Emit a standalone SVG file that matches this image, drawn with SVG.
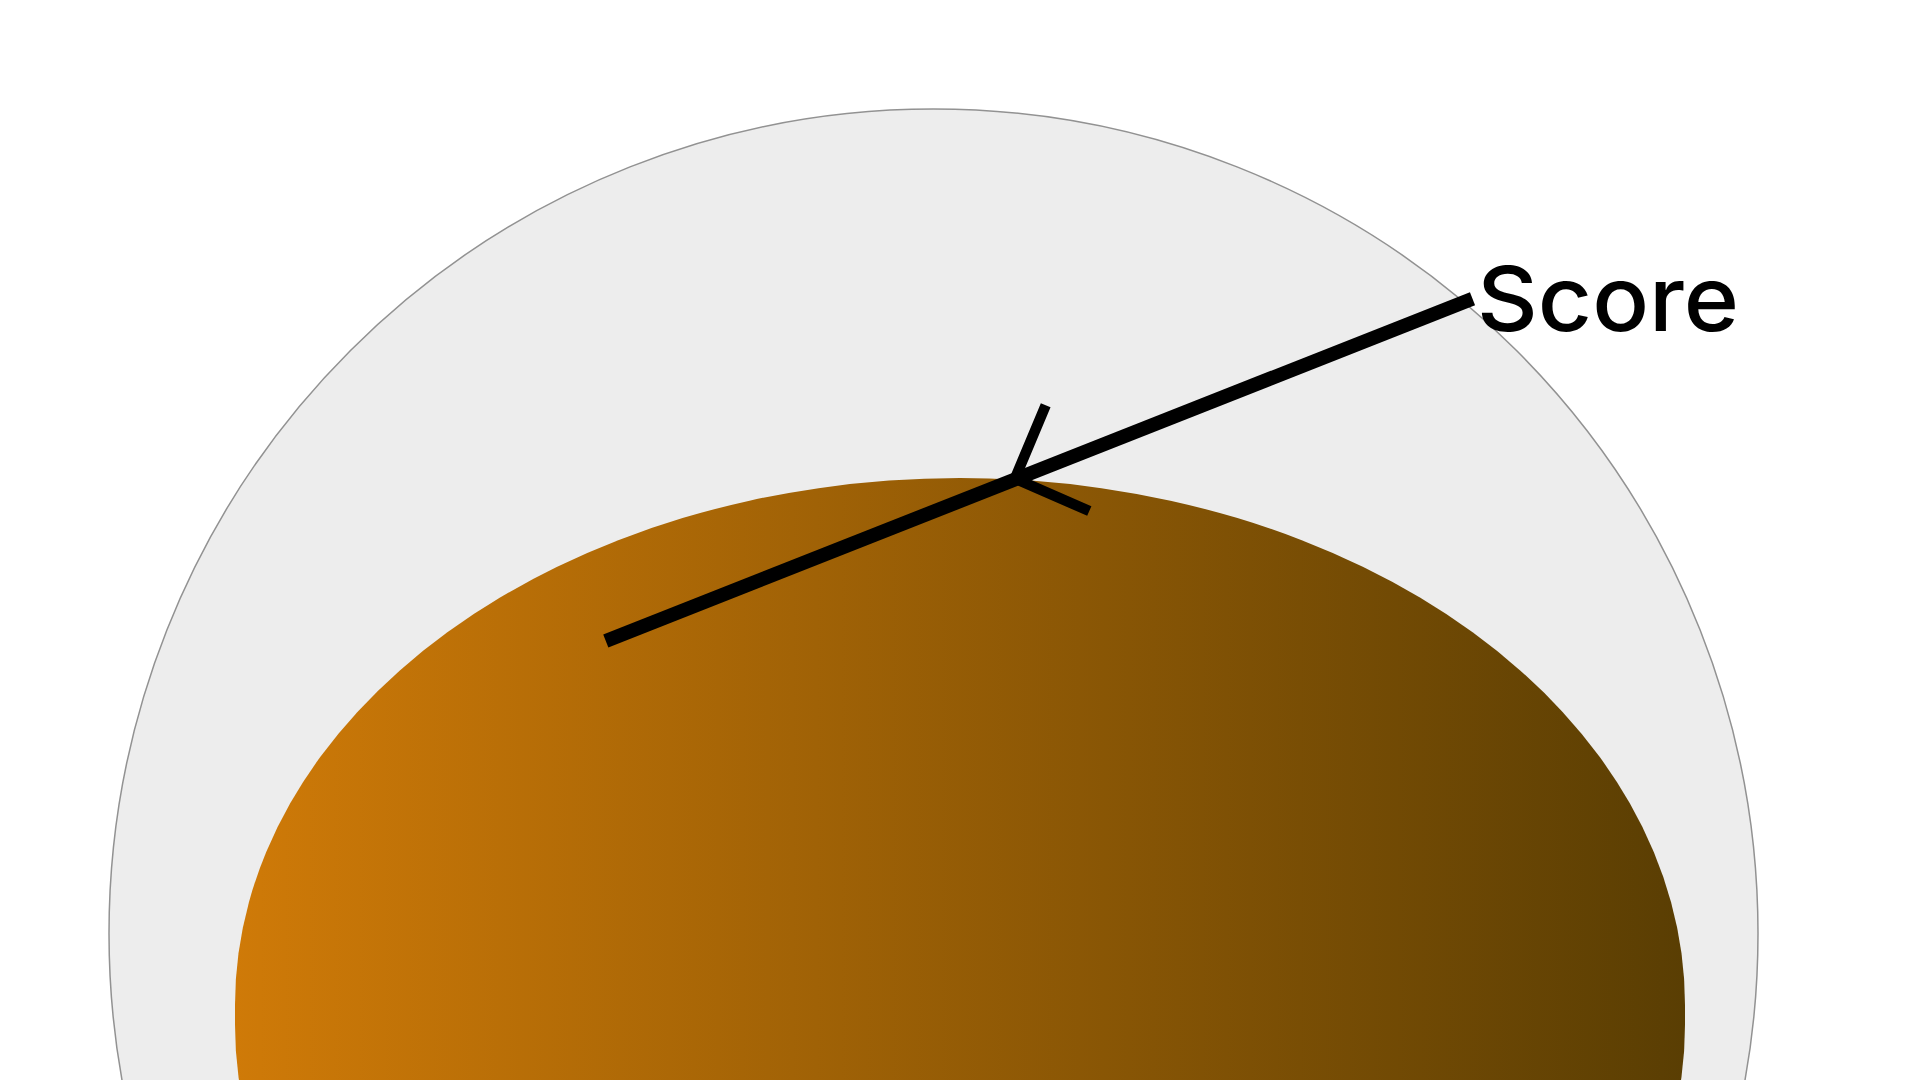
<svg xmlns="http://www.w3.org/2000/svg" width="1920" height="1080" viewBox="0 0 1920 1080">
  <defs>
    <linearGradient id="orangeGrad" gradientUnits="userSpaceOnUse" x1="235" y1="0" x2="1685" y2="0">
      <stop offset="0" stop-color="#CF7A08"/>
      <stop offset="1" stop-color="#5A3E03"/>
    </linearGradient>
    <style>
      .outer { fill: #EDEDED; stroke: #929292; stroke-width: 1.5; }
      .inner { fill: url(#orangeGrad); }
      .conn { fill: none; stroke: #000000; stroke-linecap: butt; }
      .label { font-family: Inter, "Liberation Sans", sans-serif; font-weight: 500; font-size: 90px; fill: #000000; }
    </style>
  </defs>
  <rect x="0" y="0" width="1920" height="1080" fill="#FFFFFF"/>
  <g id="outer-circle">
    <circle class="outer" cx="933.5" cy="933.5" r="824.5"/>
  </g>
  <g id="inner-shape">
    <path class="inner" d="M 235 1025 L 235 1005 A 725 527 0 0 1 1685 1005 L 1685 1025 A 725 527 0 0 1 235 1025 Z"/>
  </g>
  <g id="connectors">
    <line class="conn" x1="605.8" y1="641" x2="1472.5" y2="298.7" stroke-width="14"/>
    <polyline class="conn" points="1045.7,405.3 1015,478.5 1089.3,511" stroke-width="10.5" stroke-linejoin="miter"/>
  </g>
  <g id="label-score">
    <text class="label" x="1477" y="331" textLength="262" lengthAdjust="spacingAndGlyphs">Score</text>
  </g>
</svg>
